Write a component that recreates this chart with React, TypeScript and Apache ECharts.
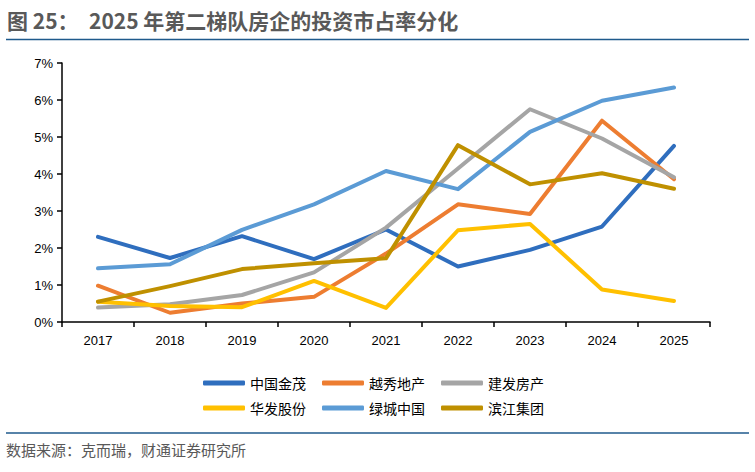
import React, { useEffect, useRef } from "react";
import * as echarts from "echarts";

const years = ["2017", "2018", "2019", "2020", "2021", "2022", "2023", "2024", "2025"];
const jinmao = [2.3, 1.73, 2.32, 1.7, 2.5, 1.5, 1.95, 2.58, 4.76];
const yuexiu = [0.98, 0.25, 0.5, 0.68, 1.85, 3.18, 2.92, 5.44, 3.86];
const jianfa = [0.39, 0.48, 0.73, 1.34, 2.55, 4.15, 5.75, 4.96, 3.91];
const huafa = [0.55, 0.43, 0.4, 1.11, 0.38, 2.48, 2.65, 0.88, 0.57];
const lvcheng = [1.45, 1.56, 2.49, 3.18, 4.08, 3.59, 5.14, 5.98, 6.34];
const binjiang = [0.55, 0.97, 1.43, 1.59, 1.72, 4.78, 3.72, 4.02, 3.6];

const seriesNames = ["中国金茂", "越秀地产", "建发房产", "华发股份", "绿城中国", "滨江集团"];
const seriesData = [jinmao, yuexiu, jianfa, huafa, lvcheng, binjiang];
const colors = ["#2F6EBE", "#ED7D31", "#A5A5A5", "#FFC000", "#5B9BD5", "#BF9000"];

const titlePrefix = "图 25：";
const titleText = "2025 年第二梯队房企的投资市占率分化";
const sourceText = "数据来源：克而瑞，财通证券研究所";

export default function App() {
  const ref = useRef<HTMLDivElement>(null);
  useEffect(() => {
    if (!ref.current) return;
    const chart = echarts.init(ref.current, undefined, { renderer: "svg" });
    const legendCommon = {
      orient: "horizontal",
      icon: "roundRect",
      itemWidth: 42,
      itemHeight: 5,
      itemGap: 16,
      textStyle: { fontSize: 14, color: "#000", fontFamily: "Noto Sans CJK SC" },
    };
    const titleStyle = {
      fontSize: 21,
      fontWeight: "bold",
      fill: "#595959",
      fontFamily: "Noto Sans CJK SC",
    };
    chart.setOption({
      animation: false,
      backgroundColor: "#fff",
      color: colors,
      grid: { left: 62, right: 45, top: 63, bottom: 150 },
      xAxis: {
        type: "category",
        data: years,
        boundaryGap: true,
        axisLine: { lineStyle: { color: "#000", width: 1.5 } },
        axisTick: { show: true, length: 5, lineStyle: { color: "#000", width: 1.5 } },
        axisLabel: { color: "#000", fontSize: 13, margin: 12, fontFamily: "Liberation Sans" },
        splitLine: { show: false },
      },
      yAxis: {
        type: "value",
        min: 0,
        max: 7,
        interval: 1,
        axisLine: { show: true, lineStyle: { color: "#000", width: 1.5 } },
        axisTick: { show: true, length: 5, lineStyle: { color: "#000", width: 1.5 } },
        axisLabel: {
          color: "#000",
          fontSize: 13,
          margin: 9,
          fontFamily: "Liberation Sans",
          formatter: (v: number) => v + "%",
        },
        splitLine: { show: false },
      },
      legend: [
        { ...legendCommon, data: seriesNames.slice(0, 3), left: 198, top: 371 },
        { ...legendCommon, data: seriesNames.slice(3, 6), left: 198, top: 396 },
      ],
      series: seriesNames.map((name, i) => ({
        name,
        type: "line",
        data: seriesData[i],
        showSymbol: false,
        symbol: "none",
        lineStyle: { width: 4, color: colors[i], cap: "round", join: "round" },
        itemStyle: { color: colors[i] },
      })),
      graphic: [
        {
          type: "text",
          left: 7,
          top: 9,
          style: { text: titlePrefix, ...titleStyle },
        },
        {
          type: "text",
          left: 89,
          top: 9,
          style: { text: titleText, ...titleStyle },
        },
        {
          type: "line",
          shape: { x1: 6, y1: 39.5, x2: 749, y2: 39.5 },
          style: { stroke: "#1F5A8C", lineWidth: 1.5 },
        },
        {
          type: "line",
          shape: { x1: 6, y1: 433, x2: 749, y2: 433 },
          style: { stroke: "#1F5A8C", lineWidth: 1.5 },
        },
        {
          type: "text",
          left: 6,
          top: 442,
          style: {
            text: sourceText,
            fontSize: 15,
            fill: "#595959",
            fontFamily: "Noto Sans CJK SC",
          },
        },
      ],
    });
    return () => chart.dispose();
  }, []);
  return (
    <div
      ref={ref}
      style={{ position: "fixed", left: 0, top: 0, width: 755, height: 472, background: "#fff" }}
    />
  );
}
